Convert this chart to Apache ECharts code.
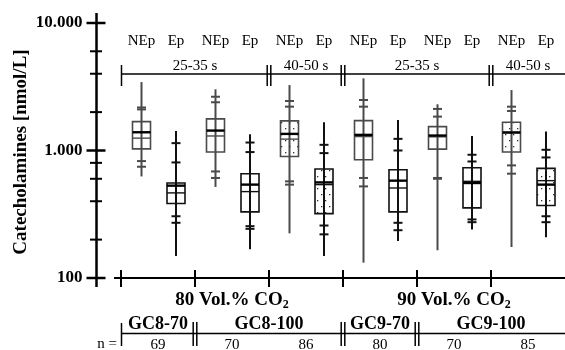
<!DOCTYPE html>
<html>
<head>
<meta charset="utf-8">
<script src="https://cdn.jsdelivr.net/npm/echarts@6/dist/echarts.min.js"></script>
<style>
  html, body { margin: 0; padding: 0; background: #fff; }
  #chart { width: 565px; height: 350px; }
</style>
</head>
<body>
<div id="chart"></div>
<script>
  // one box per hormone and measurement cell, left to right
  const hormones = ['NEp', 'Ep', 'NEp', 'Ep', 'NEp', 'Ep', 'NEp', 'Ep', 'NEp', 'Ep', 'NEp', 'Ep'];

  // box statistics in nmol/L
  const maxVals = [3440, 1425, 3020, 1343, 3260, 1667, 3680, 1738, 2304, 1300, 2980, 1407];
  const p95 = [2175, 1142, 2640, 1155, 2445, 1108, 2490, 1234, 2118, 926, 2207, 1013];
  const p90 = [2100, 806, 2390, 972, 2207, 954, 2207, 1000, 1844, 820, 2042, 882];
  const q3 = [1685, 556, 1770, 658, 1706, 716, 1716, 707, 1540, 733, 1667, 724];
  const median = [1390, 530, 1433, 540, 1350, 562, 1326, 580, 1310, 556, 1382, 540];
  const mean = [1250, 465, 1300, 476, 1228, 540, 1286, 508, 1280, 573, 1395, 580];
  const q1 = [1030, 384, 972, 330, 898, 320, 846, 330, 1025, 355, 972, 370];
  const p10 = [826, 305, 685, 255, 573, 258, 609, 271, 609, 288, 764, 305];
  const p5 = [746, 271, 609, 243, 540, 220, 523, 237, 600, 274, 658, 274];
  const minVals = [626, 149, 518, 168, 224, 149, 132, 195, 165, 240, 175, 209];

  // one entry per cell (pair of boxes)
  const times = ['25-35 s', '25-35 s', '40-50 s', '25-35 s', '25-35 s', '40-50 s'];
  const co2Levels = ['80', '80', '80', '90', '90', '90'];
  const devices = ['GC8-70', 'GC8-100', 'GC8-100', 'GC9-70', 'GC9-100', 'GC9-100'];
  const sampleN = [69, 70, 86, 80, 70, 85];

  const yTicks = [100, 1000, 10000];
  const yMinorTicks = [200, 400, 600, 800, 2000, 4000, 6000];

  const serif = 'Liberation Serif';
  const boxData = hormones.map((h, i) =>
    [i, maxVals[i], p95[i], p90[i], q3[i], median[i], mean[i], q1[i], p10[i], p5[i], minVals[i]]);

  // dotted fill for the 40-50 s boxes
  const dots = document.createElement('canvas');
  dots.width = 8;
  dots.height = 12;
  const dctx = dots.getContext('2d');
  dctx.fillStyle = '#333';
  dctx.fillRect(1, 2, 1.3, 1.3);
  dctx.fillRect(5, 8, 1.3, 1.3);

  // group runs of equal neighbours: [{label, from, to}]
  function spans(arr) {
    const out = [];
    arr.forEach((v, i) => {
      if (out.length && out[out.length - 1].label === v) out[out.length - 1].to = i + 1;
      else out.push({label: v, from: i, to: i + 1});
    });
    return out;
  }

  function line(x1, y1, x2, y2, w, c) {
    return {type: 'line', shape: {x1, y1, x2, y2}, style: {stroke: c || '#000', lineWidth: w}};
  }

  function text(str, x, y, size, bold, align) {
    return {
      type: 'text',
      style: {
        text: str, x, y, fill: '#000',
        fontSize: size, fontFamily: serif, fontWeight: bold ? 'bold' : 'normal',
        align: align || 'center', verticalAlign: 'middle'
      }
    };
  }

  const measure = document.createElement('canvas').getContext('2d');
  function textWidth(str, font) {
    measure.font = font;
    return measure.measureText(str).width;
  }

  function boxCenter(api, i) {
    return api.coord([i + 0.5, 1000])[0] + (hormones[i] === 'NEp' ? 2 : -0.5);
  }

  function renderBox(params, api) {
    const i = api.value(0);
    const color = hormones[i] === 'NEp' ? '#4a4a4a' : '#111';
    const x = boxCenter(api, i);
    const y = k => api.coord([0, api.value(k)])[1];
    const hw = 9;
    const dotted = times[Math.floor(i / 2)] === '40-50 s';
    const children = [line(x, y(10), x, y(1), 2, color)];
    [2, 3, 8, 9].forEach(k => children.push(line(x - 4.5, y(k), x + 4.5, y(k), 2, color)));
    children.push({
      type: 'rect',
      shape: {x: x - hw, y: y(4), width: 2 * hw, height: y(7) - y(4)},
      style: {stroke: color, lineWidth: 1.6, fill: dotted ? {image: dots, repeat: 'repeat'} : 'none'}
    });
    children.push(line(x - hw, y(6), x + hw, y(6), 1.4, color));
    children.push(line(x - hw, y(5), x + hw, y(5), 2.4, '#000'));
    return {type: 'group', children};
  }

  function separator(x, y1, y2) {
    return [line(x - 1.8, y1, x - 1.8, y2, 1.5), line(x + 1.8, y1, x + 1.8, y2, 1.5)];
  }

  function renderFrame(params, api) {
    const px = u => api.coord([u, 1000])[0];
    const py = v => api.coord([0, v])[1];
    const kids = [];
    const left = px(0), right = px(12);
    const axisX = left - 24.5;
    const base = py(100);

    // y axis
    kids.push(line(axisX, py(10000) - 10, axisX, base + 9, 2.5));
    yTicks.forEach(v => kids.push(line(axisX - 10, py(v), axisX + 9, py(v), 2.5)));
    yMinorTicks.forEach(v => kids.push(line(axisX - 6.5, py(v), axisX + 5.5, py(v), 2)));
    kids.push({
      type: 'text', x: 21, y: 152, rotation: Math.PI / 2,
      style: {
        text: 'Catecholamines [nmol/L]', fill: '#000', fontSize: 19, fontWeight: 'bold',
        fontFamily: serif, align: 'center', verticalAlign: 'middle'
      }
    });

    // x axis
    kids.push(line(axisX + 17.5, base, right, base, 2));
    for (let k = 0; k < 6; k++) kids.push(line(px(2 * k), base - 8, px(2 * k), base + 9, 2));

    // hormone labels
    hormones.forEach((h, i) => kids.push(text(h, boxCenter(api, i), 41, 15, false)));

    // sampling-time brackets
    kids.push(line(left, 74, right, 74, 1.3));
    kids.push(line(left + 0.5, 65, left + 0.5, 86, 1.5));
    spans(times).forEach((s, j) => {
      kids.push(text(s.label, (px(2 * s.from) + px(2 * s.to)) / 2, 66, 15, false));
      if (j > 0) kids.push(...separator(px(2 * s.from), 65, 86));
    });

    // CO2 level
    spans(co2Levels).forEach(s => {
      const main = s.label + ' Vol.% CO';
      const w = textWidth(main, 'bold 19px "' + serif + '"');
      const ws = textWidth('2', 'bold 12px "' + serif + '"');
      const x0 = (px(2 * s.from) + px(2 * s.to)) / 2 - (w + ws) / 2;
      kids.push(text(main, x0, 300, 19, true, 'left'));
      kids.push(text('2', x0 + w, 305, 12, true, 'left'));
    });

    // devices and sample sizes
    kids.push(line(left, 333.5, right, 333.5, 1.3));
    kids.push(line(left + 0.5, 323, left + 0.5, 346, 1.5));
    spans(devices).forEach((s, j) => {
      kids.push(text(s.label, (px(2 * s.from) + px(2 * s.to)) / 2, 324, 18, true));
      if (j > 0) kids.push(...separator(px(2 * s.from), 322, 346));
    });
    kids.push(text('n =', left - 4, 344, 15, false, 'right'));
    sampleN.forEach((n, j) => kids.push(text(String(n), (px(2 * j) + px(2 * j + 2)) / 2, 345, 15, false)));

    return {type: 'group', children: kids};
  }

  const chart = echarts.init(document.getElementById('chart'));

  chart.setOption({
    animation: false,
    grid: {left: 121, right: 0, top: 23, bottom: 72},
    xAxis: {type: 'value', min: 0, max: 12, show: false},
    yAxis: {
      type: 'log',
      logBase: 10,
      min: 100,
      max: 10000,
      offset: 24.5,
      axisLine: {show: false},
      axisTick: {show: false},
      splitLine: {show: false},
      axisLabel: {
        margin: 14,
        color: '#000',
        fontFamily: serif,
        fontWeight: 'bold',
        fontSize: 17,
        showMinLabel: true,
        showMaxLabel: true,
        formatter: v => String(Math.round(v)).replace(/\B(?=(\d{3})+(?!\d))/g, '.')
      }
    },
    series: [{
      type: 'custom',
      name: 'frame',
      silent: true,
      clip: false,
      data: [[0]],
      renderItem: renderFrame
    }, {
      type: 'custom',
      name: 'boxes',
      clip: false,
      data: boxData,
      renderItem: renderBox
    }]
  });
</script>
</body>
</html>
